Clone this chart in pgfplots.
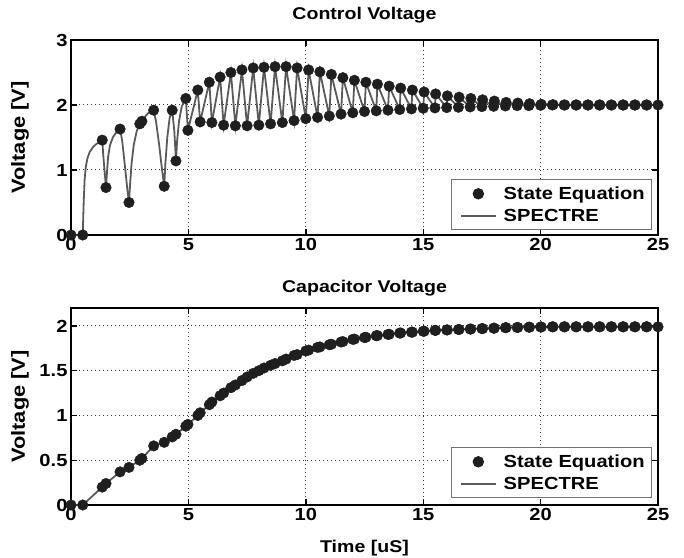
\documentclass[border=0pt]{standalone}
\usepackage{pgfplots}
\pgfplotsset{compat=1.18}
\usepackage{pgfplotstable}
\usepackage{fontspec}
\setmainfont{Liberation Sans}[FakeStretch=1.15]
\definecolor{markc}{HTML}{1F1F1F}
\definecolor{linec}{HTML}{5A5A5A}

% State-equation samples: time, control voltage, capacitor voltage
\pgfplotstableread{
t ctrl cap
0 0 0
0.5 0 0
1.33 1.46 0.20
1.49 0.73 0.24
2.09 1.63 0.37
2.47 0.50 0.42
2.93 1.71 0.50
3.02 1.75 0.52
3.52 1.92 0.66
3.97 0.75 0.70
4.31 1.92 0.76
4.47 1.14 0.79
4.89 2.10 0.88
4.98 1.61 0.90
5.40 2.23 1.00
5.50 1.74 1.03
5.89 2.35 1.12
6.00 1.73 1.15
6.35 2.43 1.22
6.50 1.69 1.25
6.81 2.50 1.31
7.00 1.68 1.34
7.28 2.54 1.39
7.50 1.68 1.43
7.76 2.57 1.47
8.00 1.69 1.50
8.22 2.58 1.53
8.50 1.71 1.56
8.69 2.59 1.58
9.00 1.73 1.61
9.16 2.59 1.63
9.50 1.76 1.67
9.63 2.57 1.68
10.00 1.79 1.72
10.12 2.54 1.73
10.50 1.81 1.76
10.60 2.51 1.765
11.00 1.83 1.79
11.09 2.47 1.795
11.50 1.86 1.82
11.58 2.42 1.825
12.00 1.88 1.85
12.07 2.38 1.853
12.50 1.90 1.87
12.56 2.35 1.873
13.00 1.91 1.89
13.05 2.32 1.892
13.50 1.92 1.905
13.55 2.29 1.907
14.00 1.93 1.92
14.04 2.26 1.921
14.50 1.94 1.93
14.54 2.23 1.931
15.00 1.95 1.94
15.04 2.20 1.941
15.50 1.955 1.95
15.53 2.17 1.95
16.00 1.96 1.955
16.03 2.14 1.955
16.50 1.965 1.96
16.53 2.12 1.96
17.00 1.97 1.965
17.03 2.10 1.965
17.50 1.975 1.97
17.53 2.08 1.97
18.00 1.98 1.975
18.03 2.06 1.975
18.50 1.985 1.98
18.53 2.04 1.98
19.00 1.99 1.983
19.03 2.03 1.983
19.50 1.99 1.986
19.53 2.02 1.986
20.00 1.995 1.988
20.03 2.01 1.988
20.50 2.0 1.99
20.53 2.005 1.99
21.00 2.0 1.99
21.03 2.0 1.99
21.50 2.0 1.99
21.53 2.0 1.99
22.00 2.0 1.99
22.03 2.0 1.99
22.50 2.0 1.99
22.53 2.0 1.99
23.00 2.0 1.99
23.03 2.0 1.99
23.50 2.0 1.99
23.53 2.0 1.99
24.00 2.0 1.99
24.03 2.0 1.99
24.50 2.0 1.99
24.53 2.0 1.99
25.00 2.0 1.99
}\sedata

% SPECTRE control voltage waveform
\pgfplotstableread{
t v
0 0
0.5 0
0.54 0.5
0.58 0.85
0.63 1.05
0.70 1.18
0.80 1.28
0.95 1.36
1.15 1.42
1.33 1.46
1.38 1.2
1.49 0.73
1.53 0.95
1.58 1.2
1.66 1.38
1.78 1.50
1.93 1.58
2.09 1.63
2.18 1.45
2.30 1.05
2.40 0.7
2.47 0.50
2.52 0.8
2.58 1.1
2.67 1.38
2.80 1.6
2.93 1.71
3.02 1.75
3.15 1.82
3.30 1.88
3.52 1.92
3.62 1.75
3.75 1.4
3.88 1.0
3.97 0.75
4.02 1.1
4.10 1.5
4.20 1.8
4.31 1.92
4.40 1.6
4.47 1.14
4.52 1.45
4.60 1.75
4.72 1.98
4.89 2.10
4.98 1.61
5.40 2.23
5.50 1.74
5.89 2.35
6.00 1.73
6.35 2.43
6.50 1.69
6.81 2.50
7.00 1.68
7.28 2.54
7.50 1.68
7.76 2.57
8.00 1.69
8.22 2.58
8.50 1.71
8.69 2.59
9.00 1.73
9.16 2.59
9.50 1.76
9.63 2.57
10.00 1.79
10.12 2.54
10.50 1.81
10.60 2.51
11.00 1.83
11.09 2.47
11.50 1.86
11.58 2.42
12.00 1.88
12.07 2.38
12.50 1.90
12.56 2.35
13.00 1.91
13.05 2.32
13.50 1.92
13.55 2.29
14.00 1.93
14.04 2.26
14.50 1.94
14.54 2.23
15.00 1.95
15.04 2.20
15.50 1.955
15.53 2.17
16.00 1.96
16.03 2.14
16.50 1.965
16.53 2.12
17.00 1.97
17.03 2.10
17.50 1.975
17.53 2.08
18.00 1.98
18.03 2.06
18.50 1.985
18.53 2.04
19.00 1.99
19.03 2.03
19.50 1.99
19.53 2.02
20.00 1.995
20.03 2.01
20.50 2.0
21.00 2.0
22.00 2.0
23.00 2.0
24.00 2.0
25.00 2.0
}\spectrectrl

\begin{document}
\begin{tikzpicture}
\useasboundingbox (0pt,0pt) rectangle (684pt,557pt);
\pgfplotsset{
 myax/.style={
  scale only axis, width=587pt, xmin=0, xmax=25, xtick={0,5,10,15,20,25},
  grid=major, grid style={black!80, line width=1pt, dash pattern=on 1pt off 3pt},
  axis line style={black, line width=1.6pt},
  major tick style={black, line width=1.4pt},
  major tick length=6pt, tick align=inside,
  /pgf/number format/assume math mode=true,
  tick label style={font=\fontsize{17.5}{20}\selectfont\bfseries},
  label style={font=\fontsize{17}{20}\selectfont\bfseries},
  title style={font=\fontsize{17}{20}\selectfont\bfseries, anchor=base},
  ylabel style={at={(axis description cs:-0.0869,0.5)}, anchor=center, font=\fontsize{19}{22}\selectfont\bfseries},
  legend style={font=\fontsize{17.5}{20}\selectfont\bfseries, draw=black!55, line width=0.8pt,
     at={(axis description cs:0.9898,0.0256)}, anchor=south east,
     inner xsep=5pt, inner ysep=5pt, row sep=4pt},
  legend cell align=left,
  legend image code/.code={\path (-4pt,0pt) (40pt,0pt);
     \draw[mark repeat=2,mark phase=2,#1] plot coordinates {(0pt,0pt) (17.5pt,0pt) (35pt,0pt)};},
  clip=false,
 },
 semark/.style={only marks, mark=*, mark size=5.3pt, mark options={draw=markc, fill=markc}},
 spline/.style={no marks, color=linec, line width=1.8pt},
}
\begin{axis}[myax, at={(71pt,322pt)}, anchor=south west, height=195pt,
  ymin=0, ymax=3, ytick={0,1,2,3},
  title={Control Voltage}, title style={at={(axis description cs:0.5,1.072)}},
  ylabel={Voltage [V]}]
\addplot[semark] table[x=t,y=ctrl]{\sedata};
\addlegendentry{State Equation}
\addplot[spline] table[x=t,y=v]{\spectrectrl};
\addlegendentry{SPECTRE}
\end{axis}
\begin{axis}[myax, at={(71pt,52pt)}, anchor=south west, height=197pt,
  ymin=0, ymax=2.2, ytick={0,0.5,1,1.5,2},
  title={Capacitor Voltage}, title style={at={(axis description cs:0.5,1.046)}},
  ylabel={Voltage [V]},
  xlabel={Time [uS]}, xlabel style={at={(axis description cs:0.5,-0.2386)}, anchor=base},
  legend style={at={(axis description cs:0.9898,0.0355)}}]
\addplot[semark] table[x=t,y=cap]{\sedata};
\addlegendentry{State Equation}
\addplot[spline] table[x=t,y=cap]{\sedata};
\addlegendentry{SPECTRE}
\end{axis}
\end{tikzpicture}
\end{document}
